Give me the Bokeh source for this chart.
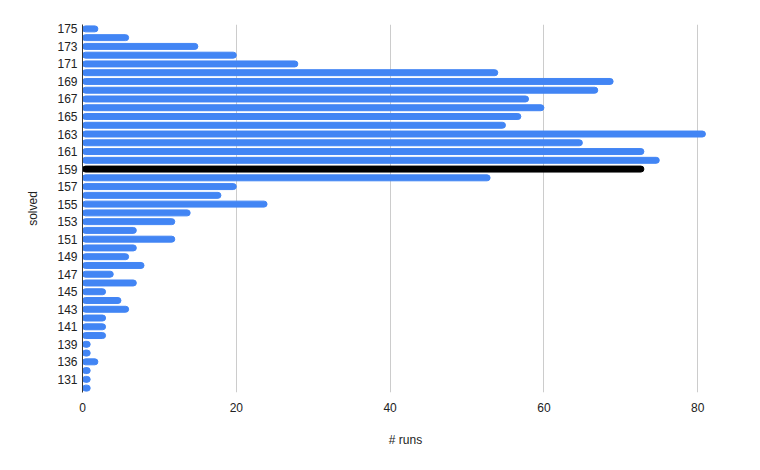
from bokeh.plotting import figure
from bokeh.models import Range1d, ColumnDataSource, FixedTicker
from bokeh.embed import file_html
from bokeh.resources import INLINE

# categories from top to bottom
solved = ["175", "174", "173", "172", "171", "170", "169", "168", "167", "166",
          "165", "164", "163", "162", "161", "160", "159", "158", "157", "156",
          "155", "154", "153", "152", "151", "150", "149", "148", "147", "146",
          "145", "144", "143", "142", "141", "140", "139", "138", "136", "134",
          "131", "130"]
runs = [2, 6, 15, 20, 28, 54, 69, 67, 58, 60,
        57, 55, 81, 65, 73, 75, 73, 53, 20, 18,
        24, 14, 12, 7, 12, 7, 6, 8, 4, 7,
        3, 5, 6, 3, 3, 3, 1, 1, 2, 1,
        1, 1]
highlight = "159"
shown_labels = ["175", "173", "171", "169", "167", "165", "163", "161", "159", "157",
                "155", "153", "151", "149", "147", "145", "143", "141", "139", "136", "131"]
x_ticks = [0, 20, 40, 60, 80]

n = len(solved)
ypos = [n - 1 - i for i in range(n)]  # category slot, top category highest
colors = ["#000000" if s == highlight else "#4285f4" for s in solved]
src = ColumnDataSource(dict(y=ypos, x=runs, c=colors, name=solved))

p = figure(width=744, height=454, output_backend="svg", toolbar_location=None,
           y_range=Range1d(-0.5, n - 0.5), x_range=Range1d(0, 84),
           min_border_left=82, min_border_right=16, min_border_top=24, min_border_bottom=62)
p.hbar(y="y", right="x", left=0, height=0.68, color="c", source=src, border_radius=3)

p.outline_line_color = None
p.ygrid.grid_line_color = None
p.xgrid.grid_line_color = "#cccccc"
p.xgrid.ticker = x_ticks
p.xaxis.ticker = x_ticks

p.xaxis.axis_line_color = None
p.xaxis.major_tick_line_color = None
p.xaxis.minor_tick_line_color = None
p.xaxis.major_tick_out = 0
p.xaxis.minor_tick_out = 0
p.xaxis.major_label_standoff = 10
p.xaxis.axis_label = "# runs"
p.xaxis.axis_label_standoff = 18

tick_pos = [ypos[solved.index(s)] for s in shown_labels]
p.yaxis.ticker = FixedTicker(ticks=tick_pos)
p.yaxis.major_label_overrides = {ypos[solved.index(s)]: s for s in shown_labels}
p.yaxis.axis_line_color = "#333333"
p.yaxis.major_tick_line_color = None
p.yaxis.minor_tick_line_color = None
p.yaxis.major_tick_out = 0
p.yaxis.minor_tick_out = 0
p.yaxis.major_label_standoff = 5
p.yaxis.axis_label = "solved"
p.yaxis.axis_label_standoff = 14

for ax in (p.xaxis, p.yaxis):
    ax.major_label_text_font = "Liberation Sans"
    ax.major_label_text_font_size = "12px"
    ax.major_label_text_color = "#222222"
    ax.axis_label_text_font = "Liberation Sans"
    ax.axis_label_text_font_size = "12px"
    ax.axis_label_text_font_style = "normal"
    ax.axis_label_text_color = "#222222"

open("out.html", "w").write(file_html(p, INLINE))
